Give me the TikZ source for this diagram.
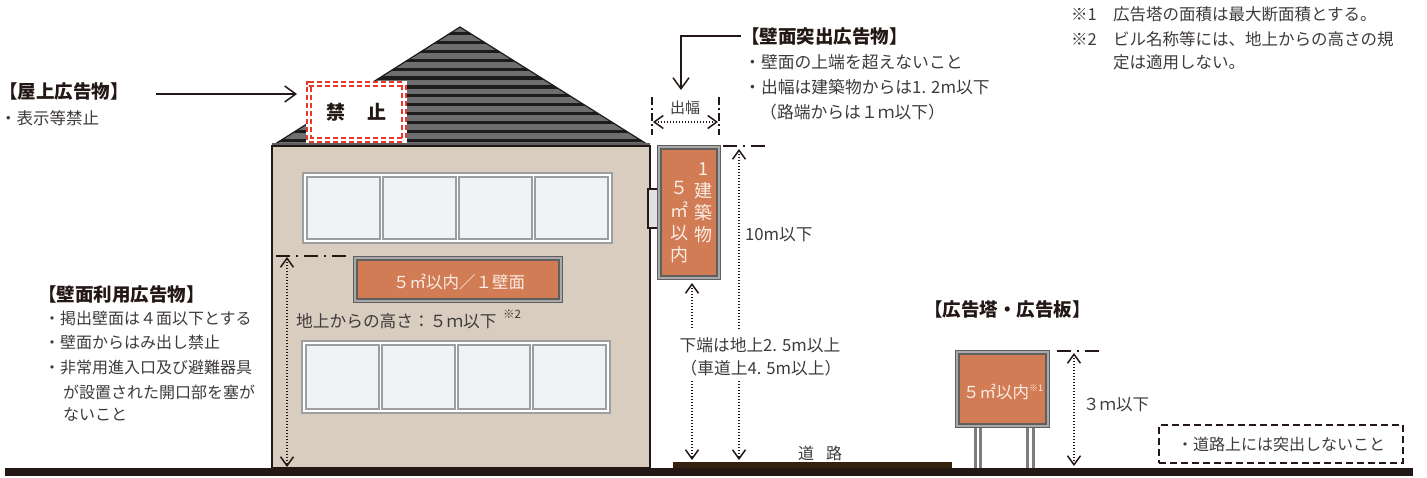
\documentclass[tikz,border=0pt]{standalone}
\usepackage{fontspec}
\setmainfont{Noto Sans CJK JP}
\usetikzlibrary{arrows.meta}

\definecolor{ink}{HTML}{231815}
\definecolor{body}{HTML}{3E3A39}
\definecolor{wallc}{HTML}{D9CDC0}
\definecolor{roofgray}{HTML}{6D6E70}
\definecolor{roofdark}{HTML}{1C1C1C}
\definecolor{signorange}{HTML}{D27C56}
\definecolor{signedge}{HTML}{5F5F5F}
\definecolor{signgap}{HTML}{A9A9A9}
\definecolor{winframe}{HTML}{9D9E9F}
\definecolor{winpane}{HTML}{F1F2F4}
\definecolor{roadc}{HTML}{36210F}
\definecolor{stopred}{HTML}{E83828}
\definecolor{postc}{HTML}{7D7D7D}
\definecolor{signtext}{HTML}{FBEDE4}

\tikzset{
  txt/.style={inner sep=0pt, anchor=west, text=body, font=\fontsize{16}{16}\selectfont},
  ctxt/.style={txt, anchor=center},
  rtxt/.style={txt, font=\fontsize{16.8}{16.8}\selectfont},
  ttl/.style={inner sep=0pt, anchor=west, text=ink, font=\fontsize{18.5}{18.5}\selectfont\bfseries},
  note/.style={txt, font=\fontsize{16.5}{16.5}\selectfont},
  signbox/.style={draw=signedge, line width=1.2pt, double=signgap, double distance=2.2pt,
    fill=signorange, inner sep=0pt, text=signtext},
  pointer/.style={draw=ink, line width=1.5pt,
    -{Straight Barb[length=11pt,width=16pt,line width=1.5pt]}},
  dimarrow/.style={draw=ink, line width=1.3pt, dash pattern=on 1.3pt off 1.7pt},
  dimtip/.style={arrows={Straight Barb[length=9pt,width=13pt,line width=1.5pt]-Straight Barb[length=9pt,width=13pt,line width=1.5pt]}},
  dimstart/.style={arrows={Straight Barb[length=9pt,width=13pt,line width=1.5pt]-}},
  dimend/.style={arrows={-Straight Barb[length=9pt,width=13pt,line width=1.5pt]}},
  levelline/.style={draw=ink, line width=1.5pt, dash pattern=on 14pt off 6pt on 2pt off 6pt},
  pane/.style={draw=winframe, line width=1.5pt, fill=winpane},
}

\begin{document}
\begin{tikzpicture}[x=1pt,y=-1pt]
\useasboundingbox (0,0) rectangle (1427,477);

% ---------- ground and road ----------
\fill[ink] (5,468) rectangle (1413,476);
\fill[roadc] (673,461.5) rectangle (952,468);

% ---------- building: roof ----------
\coordinate (roofL) at (272,146);
\coordinate (roofT) at (460,27);
\coordinate (roofR) at (650,146);
\begin{scope}
  \clip (roofL) -- (roofT) -- (roofR) -- cycle;
  \fill[roofgray] (roofL) -- (roofT) -- (roofR) -- cycle;
  \foreach \k in {0,...,13}
    \draw[roofdark, line width=3.2pt] (260,33.5+8.9*\k) -- (660,33.5+8.9*\k);
\end{scope}
\draw[ink, line width=1.2pt, line join=round] (roofL) -- (roofT) -- (roofR);
\fill[signedge] (272,143) rectangle (650,147);

% ---------- building: wall ----------
\draw[ink, line width=1.5pt, fill=wallc] (272,146) rectangle (650,468);

% windows, upper row
\draw[winframe, line width=2.5pt, fill=white] (303,173) rectangle (612,243);
\foreach \a/\b in {307/380,383/456,459/532,535/608}
  \draw[pane] (\a,177) rectangle (\b,239);
% windows, lower row
\draw[winframe, line width=2.5pt, fill=white] (302,341) rectangle (610,413);
\foreach \a/\b in {306/379,382/455,458/530,533/606}
  \draw[pane] (\a,345) rectangle (\b,409);

% bracket holding the projecting sign
\draw[ink, line width=1.2pt, fill=winpane!85!gray] (648,189) rectangle (658,228);

% ---------- rooftop sign (prohibited) ----------
\fill[white] (306,81) rectangle (407,143);
\node[draw=stopred, line width=2pt, double=white, double distance=2.4pt,
      dash pattern=on 5pt off 3pt, fill=white, minimum width=94.6pt, minimum height=55.6pt,
      inner sep=0pt, text=ink, font=\fontsize{19}{19}\selectfont\bfseries]
  (kinshi) at (356.5,112) {禁\hspace{1.15em}止};

\node[ttl] (troof) at (-1,91) {【屋上広告物】};
\node[txt, font=\fontsize{16.5}{16.5}\selectfont] (broof) at (0,118) {・表示等禁止};
\coordinate (roofA) at (156,94);
\coordinate (roofB) at (297,94);
\draw[pointer] (roofA) -- (roofB);

% ---------- wall sign ----------
\node[signbox, minimum width=205.4pt, minimum height=42.4pt] (wallsign) at (458,279.5) {};
\node[ctxt, text=signtext, font=\fontsize{16.5}{16.5}\selectfont] (wallsigntxt) at (459,282) {５㎡以内／１壁面};

\coordinate (lvA) at (276,256);
\coordinate (lvB) at (348,256);
\draw[levelline] (lvA) -- (lvB);
\coordinate (h5top) at (287,257);
\coordinate (h5bot) at (287,467);
\draw[dimarrow, dimtip] (h5top) -- (h5bot);
\node[txt, font=\fontsize{16.7}{16.7}\selectfont] (h5txt) at (296,321) {地上からの高さ：５ｍ以下};
\node[txt, font=\fontsize{11.5}{11.5}\selectfont] (h5note) at (503,314) {※2};

\node[ttl] (twall) at (38,295) {【壁面利用広告物】};
\node[txt] (bw1) at (44,318) {・掲出壁面は４面以下とする};
\node[txt] (bw2) at (44,342) {・壁面からはみ出し禁止};
\node[txt] (bw3) at (44,367) {・非常用進入口及び避難器具};
\node[txt] (bw4) at (63,392) {が設置された開口部を塞が};
\node[txt] (bw5) at (63,414) {ないこと};

% ---------- projecting sign ----------
\node[signbox, minimum width=59.4pt, minimum height=130.4pt] (projsign) at (689,212.5) {};
\node[ctxt, text=signtext, align=center, font=\fontsize{18}{22.3}\selectfont] (pcolL) at (679,222.5) {５\\㎡\\以\\内};
\node[ctxt, text=signtext, align=center, font=\fontsize{18}{22}\selectfont] (pcolR) at (703,203) {1\\建\\築\\物};

% projection width
\coordinate (pwLt) at (652,97);  \coordinate (pwLb) at (652,135);
\coordinate (pwRt) at (719,97);  \coordinate (pwRb) at (719,135);
\draw[levelline, dash pattern=on 8pt off 3pt on 2pt off 3pt] (pwLt) -- (pwLb);
\draw[levelline, dash pattern=on 8pt off 3pt on 2pt off 3pt] (pwRt) -- (pwRb);
\coordinate (pwA) at (653,122);
\coordinate (pwB) at (718,122);
\draw[dimarrow, dimtip] (pwA) -- (pwB);
\node[ctxt, font=\fontsize{15}{15}\selectfont] (pwtxt) at (685,108) {出幅};

\node[ttl] (tproj) at (741,36) {【壁面突出広告物】};
\coordinate (projtip) at (681,90);
\draw[pointer] (tproj.west) -| (projtip);
\node[rtxt] (bp1) at (744,62) {・壁面の上端を超えないこと};
\node[rtxt] (bp2) at (744,87) {・出幅は建築物からは1.\hspace{0.3em}2m以下};
\node[rtxt] (bp3) at (760,112) {（路端からは１ｍ以下）};

% heights of the projecting sign
\coordinate (tpA) at (723,146);
\coordinate (tpB) at (767,146);
\draw[levelline] (tpA) -- (tpB);
\coordinate (h10top) at (739,149);
\coordinate (h10mid) at (739,330);
\coordinate (h10low) at (739,381);
\coordinate (h10bot) at (739,460);
\draw[dimarrow, dimstart] (h10top) -- (h10mid);
\draw[dimarrow, dimend] (h10low) -- (h10bot);
\node[txt, font=\fontsize{16.7}{16.7}\selectfont] (h10txt) at (745,235) {10m以下};

\coordinate (h25top) at (692,283);
\coordinate (h25mid) at (692,330);
\coordinate (h25low) at (692,381);
\coordinate (h25bot) at (692,460);
\draw[dimarrow, dimstart] (h25top) -- (h25mid);
\draw[dimarrow, dimend] (h25low) -- (h25bot);
\node[ctxt, font=\fontsize{16.7}{16.7}\selectfont] (h25a) at (760,345) {下端は地上2.\hspace{0.3em}5m以上};
\node[ctxt, font=\fontsize{16.7}{16.7}\selectfont] (h25b) at (761,368) {（車道上4.\hspace{0.3em}5m以上）};

\node[ctxt] (roadtxt) at (820,453) {道\hspace{0.75em}路};

% ---------- advertising tower ----------
\node[ttl] (ttower) at (924,310) {【広告塔・広告板】};
\foreach \px in {975,980.5,1027.5,1033}
  \draw[postc, line width=3pt] (\px,428) -- (\px,468);
\node[signbox, minimum width=90.4pt, minimum height=73.4pt] (tower) at (1002.5,389) {};
\node[ctxt, text=signtext, font=\fontsize{16.5}{16.5}\selectfont] (towertxt) at (1003,392)
  {５㎡以内\raisebox{0.45em}{\fontsize{9}{9}\selectfont ※1}};

\coordinate (t3A) at (1057,351);
\coordinate (t3B) at (1102,351);
\draw[levelline] (t3A) -- (t3B);
\coordinate (h3top) at (1074,353);
\coordinate (h3bot) at (1074,466);
\draw[dimarrow, dimtip] (h3top) -- (h3bot);
\node[txt, font=\fontsize{16.5}{16.5}\selectfont] (h3txt) at (1083,405) {３ｍ以下};

\node[draw=ink, line width=1.5pt, dash pattern=on 7pt off 4pt, minimum width=244pt,
      minimum height=38pt, inner sep=0pt, text=body, font=\fontsize{16}{16}\selectfont]
  (roadnote) at (1281,444) {・道路上には突出しないこと};

% ---------- notes ----------
\node[note] (n1m) at (1071,14) {※1};
\node[note] (n1t) at (1113,14) {広告塔の面積は最大断面積とする。};
\node[note] (n2m) at (1071,39) {※2};
\node[note] (n2t) at (1113,39) {ビル名称等には、地上からの高さの規};
\node[note] (n2u) at (1113,62) {定は適用しない。};
\end{tikzpicture}
\end{document}
